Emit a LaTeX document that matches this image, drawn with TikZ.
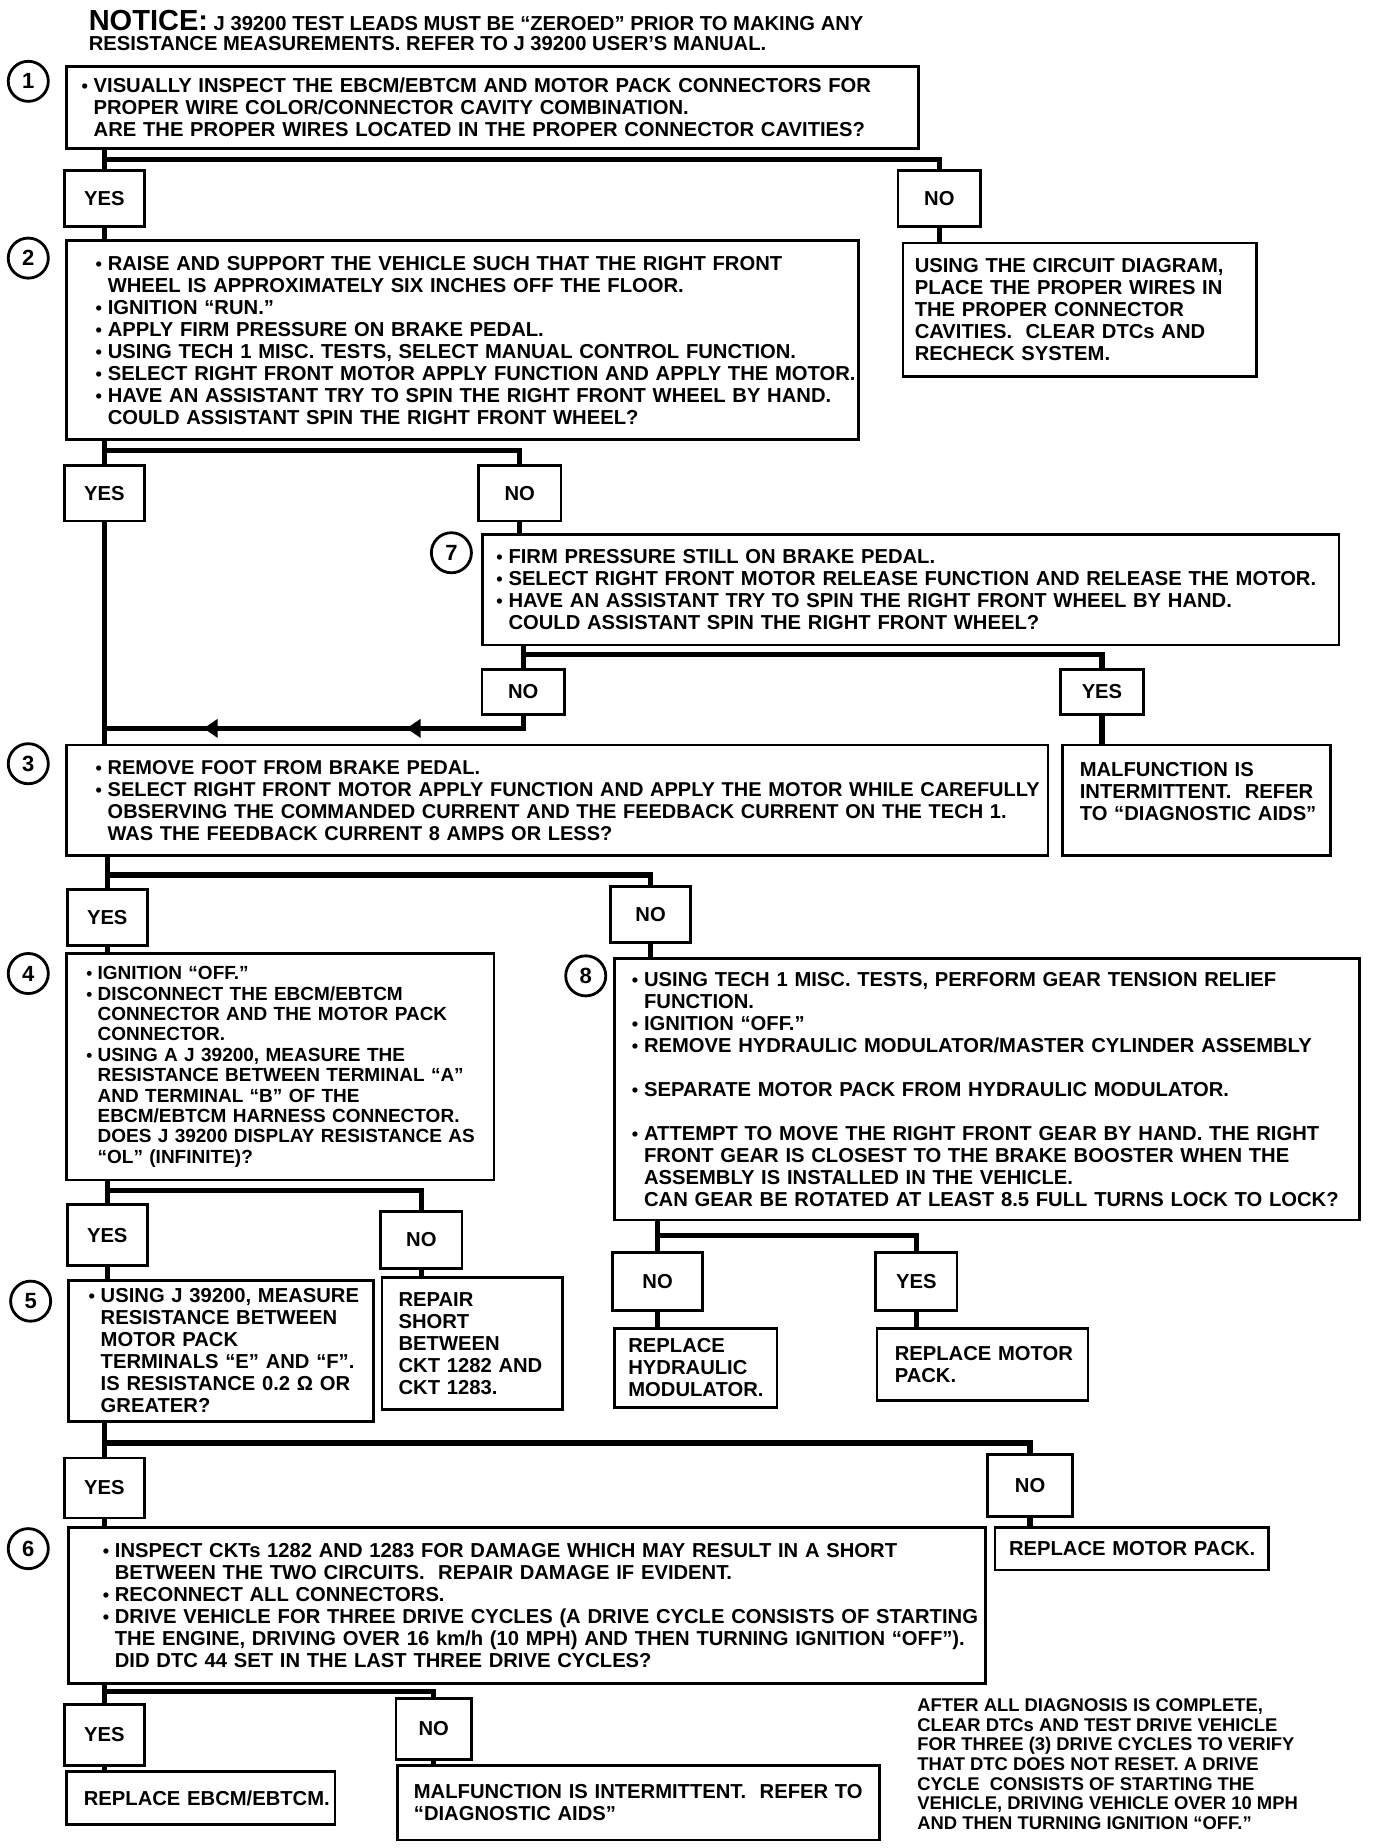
\documentclass[tikz,border=0pt]{standalone}
\usepackage{fontspec}
\setmainfont{Liberation Sans}
\usetikzlibrary{arrows.meta,decorations.markings}
\newlength\pxu
\setlength\pxu{0.589pt}
\newcommand\bul{\makebox[0.6em][l]{\scalebox{0.9}{\textbullet}}}
\newcommand\ind{\hspace*{0.6em}}

\begin{document}
\begin{tikzpicture}[
  x=\pxu, y=-\pxu,
  every node/.style={font=\bfseries\fontsize{10.1}{11}\selectfont},
  stepbox/.style={draw, line width=1.4pt, anchor=north west, inner sep=0pt},
  dims/.style n args={3}{text width=#1*\pxu, minimum height=#3*\pxu,
      execute at begin node={\parindent=0pt\leftskip=#2\pxu
        \rightskip=-30pt plus 1fil\parfillskip=0pt plus 1fil}},
  ans/.style={draw, line width=1.4pt, inner sep=0pt,
              minimum width=68*\pxu, minimum height=47*\pxu},
  num/.style={circle, draw, line width=1.4pt, inner sep=0pt,
              minimum size=34*\pxu, font=\bfseries\fontsize{11}{11}\selectfont},
  link/.style={line width=2.6pt},
  flowback/.style={link, postaction={decorate}, decoration={markings,
      mark=at position 0.3 with {\arrow{Triangle[length=7pt,width=9pt]}},
      mark=at position 0.77 with {\arrow{Triangle[length=7pt,width=9pt]}}}},
]
\path[fill=white, use as bounding box] (0,0) rectangle (1168,1568);

% Notice
\node[anchor=north west, align=left, inner sep=0pt,
      font=\bfseries\fontsize{10.1}{10.4}\selectfont] (notice) at (75,8)
  {{\fontsize{14.5}{10.4}\selectfont NOTICE:} J 39200 TEST LEADS MUST BE “ZEROED” PRIOR TO MAKING ANY\\
   RESISTANCE MEASUREMENTS. REFER TO J 39200 USER’S MANUAL.};

% Step numbers
\node[num] (c1) at (24,69) {1};
\node[num] (c2) at (24,219) {2};
\node[num] (c7) at (383,469) {7};
\node[num] (c3) at (24,648) {3};
\node[num] (c4) at (24,826) {4};
\node[num] (c8) at (497,828) {8};
\node[num] (c5) at (26,1104) {5};
\node[num] (c6) at (24,1314) {6};

% Steps
\node[stepbox, dims={723}{13}{70}] (q1) at (55,55)
  {\bul VISUALLY INSPECT THE EBCM/EBTCM AND MOTOR PACK CONNECTORS FOR\\
   \ind PROPER WIRE COLOR/CONNECTOR CAVITY COMBINATION.\\
   \ind ARE THE PROPER WIRES LOCATED IN THE PROPER CONNECTOR CAVITIES?};
\node[stepbox, dims={672}{25}{169}] (q2) at (55,203)
  {\bul RAISE AND SUPPORT THE VEHICLE SUCH THAT THE RIGHT FRONT\\
   \ind WHEEL IS APPROXIMATELY SIX INCHES OFF THE FLOOR.\\
   \bul IGNITION “RUN.”\\
   \bul APPLY FIRM PRESSURE ON BRAKE PEDAL.\\
   \bul USING TECH 1 MISC. TESTS, SELECT MANUAL CONTROL FUNCTION.\\
   \bul SELECT RIGHT FRONT MOTOR APPLY FUNCTION AND APPLY THE MOTOR.\\
   \bul HAVE AN ASSISTANT TRY TO SPIN THE RIGHT FRONT WHEEL BY HAND.\\
   \ind COULD ASSISTANT SPIN THE RIGHT FRONT WHEEL?};
\node[stepbox, dims={727}{12}{94}] (q7) at (408,452)
  {\bul FIRM PRESSURE STILL ON BRAKE PEDAL.\\
   \bul SELECT RIGHT FRONT MOTOR RELEASE FUNCTION AND RELEASE THE MOTOR.\\
   \bul HAVE AN ASSISTANT TRY TO SPIN THE RIGHT FRONT WHEEL BY HAND.\\
   \ind COULD ASSISTANT SPIN THE RIGHT FRONT WHEEL?};
\node[stepbox, dims={833}{25}{94}, font=\bfseries\fontsize{10}{11}\selectfont] (q3) at (55,631)
  {\bul REMOVE FOOT FROM BRAKE PEDAL.\\
   \bul SELECT RIGHT FRONT MOTOR APPLY FUNCTION AND APPLY THE MOTOR WHILE CAREFULLY\\
   \ind OBSERVING THE COMMANDED CURRENT AND THE FEEDBACK CURRENT ON THE TECH 1.\\
   \ind WAS THE FEEDBACK CURRENT 8 AMPS OR LESS?};
\node[stepbox, dims={363}{17}{192}, font=\bfseries\fontsize{9.5}{10.2}\selectfont] (q4) at (55,808)
  {\bul IGNITION “OFF.”\\
   \bul DISCONNECT THE EBCM/EBTCM\\
   \ind CONNECTOR AND THE MOTOR PACK\\
   \ind CONNECTOR.\\
   \bul USING A J 39200, MEASURE THE\\
   \ind RESISTANCE BETWEEN TERMINAL “A”\\
   \ind AND TERMINAL “B” OF THE\\
   \ind EBCM/EBTCM HARNESS CONNECTOR.\\
   \ind DOES J 39200 DISPLAY RESISTANCE AS\\
   \ind “OL” (INFINITE)?};
\node[stepbox, dims={632}{15}{222}] (q8) at (520,812)
  {\bul USING TECH 1 MISC. TESTS, PERFORM GEAR TENSION RELIEF\\
   \ind FUNCTION.\\
   \bul IGNITION “OFF.”\\
   \bul REMOVE HYDRAULIC MODULATOR/MASTER CYLINDER ASSEMBLY\\
   \mbox{}\\
   \bul SEPARATE MOTOR PACK FROM HYDRAULIC MODULATOR.\\
   \mbox{}\\
   \bul ATTEMPT TO MOVE THE RIGHT FRONT GEAR BY HAND. THE RIGHT\\
   \ind FRONT GEAR IS CLOSEST TO THE BRAKE BOOSTER WHEN THE\\
   \ind ASSEMBLY IS INSTALLED IN THE VEHICLE.\\
   \ind CAN GEAR BE ROTATED AT LEAST 8.5 FULL TURNS LOCK TO LOCK?};
\node[stepbox, dims={259}{17}{120}] (q5) at (57,1085)
  {\bul USING J 39200, MEASURE\\
   \ind RESISTANCE BETWEEN\\
   \ind MOTOR PACK\\
   \ind TERMINALS “E” AND “F”.\\
   \ind IS RESISTANCE 0.2 Ω OR\\
   \ind GREATER?};
\node[stepbox, dims={778}{29}{132}] (q6) at (57,1295)
  {\bul INSPECT CKTs 1282 AND 1283 FOR DAMAGE WHICH MAY RESULT IN A SHORT\\
   \ind BETWEEN THE TWO CIRCUITS.\ \ REPAIR DAMAGE IF EVIDENT.\\
   \bul RECONNECT ALL CONNECTORS.\\
   \bul DRIVE VEHICLE FOR THREE DRIVE CYCLES (A DRIVE CYCLE CONSISTS OF STARTING\\
   \ind THE ENGINE, DRIVING OVER 16 km/h (10 MPH) AND THEN TURNING IGNITION “OFF”).\\
   \ind DID DTC 44 SET IN THE LAST THREE DRIVE CYCLES?};

% Results
\node[stepbox, dims={300}{10}{113}] (fix1) at (765,205)
  {USING THE CIRCUIT DIAGRAM,\\ PLACE THE PROPER WIRES IN\\ THE PROPER CONNECTOR\\
   CAVITIES.\ \ CLEAR DTCs AND\\ RECHECK SYSTEM.};
\node[stepbox, dims={228}{15}{94}] (mal1) at (900,631)
  {MALFUNCTION IS\\ INTERMITTENT.\ \ REFER\\ TO “DIAGNOSTIC AIDS”\\[-2pt]\mbox{}};
\node[stepbox, dims={153}{14}{112}] (rep1) at (323,1083)
  {REPAIR\\ SHORT\\ BETWEEN\\ CKT 1282 AND\\ CKT 1283.};
\node[stepbox, dims={138}{12}{67}] (hyd) at (520,1126)
  {REPLACE\\ HYDRAULIC\\ MODULATOR.};
\node[stepbox, dims={179}{15}{61}] (mot1) at (743,1126)
  {REPLACE MOTOR\\ PACK.};
\node[stepbox, dims={232}{12}{36}] (mot2) at (843,1295)
  {REPLACE MOTOR PACK.};
\node[stepbox, dims={228}{15}{45}] (ebcm) at (55,1502)
  {REPLACE EBCM/EBTCM.};
\node[stepbox, dims={409}{14}{63}] (mal2) at (336,1497)
  {MALFUNCTION IS INTERMITTENT.\ \ REFER TO\\ “DIAGNOSTIC AIDS”};

% Answers
\node[ans] (y1) at (88.5,168.5) {YES};
\node[ans, minimum width=70*\pxu] (n1) at (797,168.5) {NO};
\node[ans] (y2) at (88.5,418.5) {YES};
\node[ans, minimum width=70*\pxu] (n2) at (441,418.5) {NO};
\node[ans, minimum width=70*\pxu, minimum height=38*\pxu] (n7) at (444,587) {NO};
\node[ans, minimum width=70*\pxu, minimum height=38*\pxu] (y7) at (935,587) {YES};
\node[ans] (y3) at (91,778.5) {YES};
\node[ans] (n3) at (552,776) {NO};
\node[ans, minimum height=52*\pxu] (y4) at (91,1048) {YES};
\node[ans, minimum width=69*\pxu, minimum height=48*\pxu] (n4) at (357.5,1052) {NO};
\node[ans, minimum width=76*\pxu, minimum height=49*\pxu] (n8) at (558,1087.5) {NO};
\node[ans, minimum width=69*\pxu, minimum height=49*\pxu] (y8) at (777.5,1087.5) {YES};
\node[ans, minimum height=51*\pxu] (y5) at (88.5,1262.5) {YES};
\node[ans, minimum width=72*\pxu, minimum height=53*\pxu] (n5) at (874,1260.5) {NO};
\node[ans, minimum height=52*\pxu] (y6) at (88.5,1472) {YES};
\node[ans, minimum width=64*\pxu, minimum height=52*\pxu] (n6) at (368,1467) {NO};

% Note
\node[anchor=north west, align=left, inner sep=0pt,
      font=\bfseries\fontsize{9.2}{9.8}\selectfont] (note) at (778,1441)
  {AFTER ALL DIAGNOSIS IS COMPLETE,\\ CLEAR DTCs AND TEST DRIVE VEHICLE\\
   FOR THREE (3) DRIVE CYCLES TO VERIFY\\ THAT DTC DOES NOT RESET. A DRIVE\\
   CYCLE\ \ CONSISTS OF STARTING THE\\ VEHICLE, DRIVING VEHICLE OVER 10 MPH\\
   AND THEN TURNING IGNITION “OFF.”};

% Step 1 branches
\draw[link] (q1.south -| y1) -- (y1.north);
\draw[link] (q1.south -| y1) ++(0,8) -| (n1.north);
\draw[link] (y1.south) -- (q2.north -| y1);
\draw[link] (n1.south) -- (fix1.north -| n1);

% Step 2 branches
\draw[link] (q2.south -| y2) -- (y2.north);
\draw[link] (q2.south -| y2) ++(0,8) -| (n2.north);
\draw[link] (y2.south) -- (q3.north -| y2);
\draw[link] (n2.south) -- (q7.north -| n2);

% Step 7 branches
\coordinate (j3) at (88.5,618);
\draw[link] (q7.south -| n7) -- (n7.north);
\draw[link] (q7.south -| n7) ++(0,7) -| (y7.north);
\draw[link] (y7.south) -- (mal1.north -| y7);
\draw[flowback] (n7.south) |- (j3);

% Step 3 branches
\draw[link] (q3.south -| y3) -- (y3.north);
\draw[link] (q3.south -| y3) ++(0,15) -| (n3.north);
\draw[link] (y3.south) -- (q4.north -| y3);
\draw[link] (n3.south) -- (q8.north -| n3);

% Step 4 branches
\draw[link] (q4.south -| y4) -- (y4.north);
\draw[link] (q4.south -| y4) ++(0,8) -| (n4.north);
\draw[link] (y4.south) -- (q5.north -| y4);
\draw[link] (n4.south) -- (rep1.north -| n4);

% Step 8 branches
\draw[link] (q8.south -| n8) -- (n8.north);
\draw[link] (q8.south -| n8) ++(0,12) -| (y8.north);
\draw[link] (n8.south) -- (hyd.north -| n8);
\draw[link] (y8.south) -- (mot1.north -| y8);

% Step 5 branches
\draw[link] (q5.south -| y5) -- (y5.north);
\draw[link] (q5.south -| y5) ++(0,17) -| (n5.north);
\draw[link] (y5.south) -- (q6.north -| y5);
\draw[link] (n5.south) -- (mot2.north -| n5);

% Step 6 branches
\draw[link] (q6.south -| y6) -- (y6.north);
\draw[link] (q6.south -| y6) ++(0,6) -| (n6.north);
\draw[link] (y6.south) -- (ebcm.north -| y6);
\draw[link] (n6.south) -- (mal2.north -| n6);

\end{tikzpicture}
\end{document}
